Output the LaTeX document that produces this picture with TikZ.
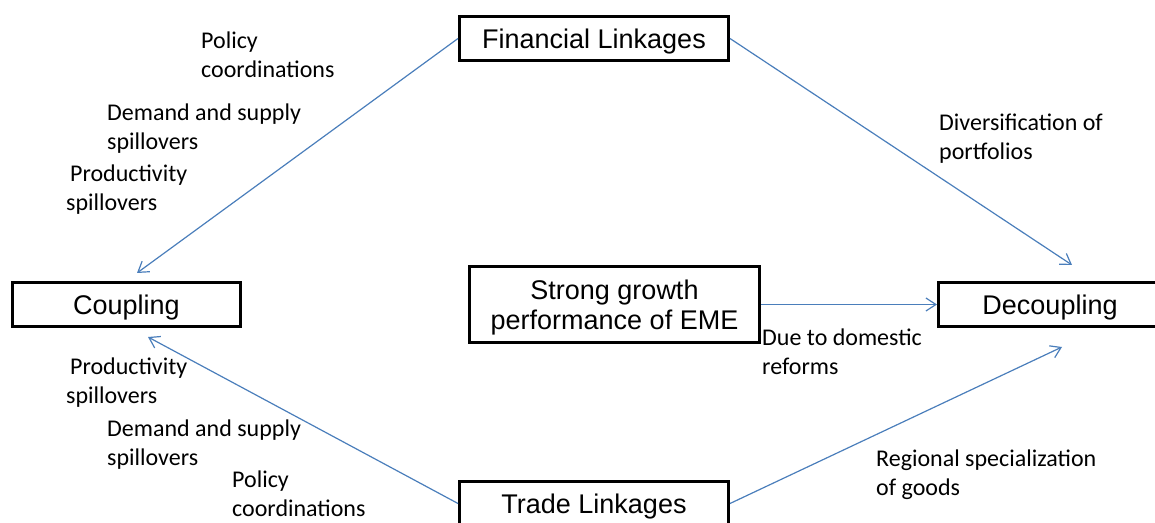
\documentclass[tikz,border=0pt]{standalone}
\usepackage{fontspec}
\setmainfont{Liberation Sans}
\newfontfamily\lblfont{Carlito}
\usetikzlibrary{arrows.meta}
\definecolor{linkblue}{RGB}{74,126,187}

\begin{document}
\begin{tikzpicture}[x=1pt,y=1pt,
  box/.style={draw=black, line width=3.4pt, inner sep=0pt, align=center,
    font=\fontsize{27}{30}\selectfont},
  onerow/.style={text height=25.6pt, text depth=5.7pt},
  lbl/.style={inner sep=0pt, anchor=west, align=left,
    font=\lblfont\fontsize{24}{29}\selectfont},
  link/.style={draw=linkblue, line width=1.2pt,
    -{Straight Barb[length=10pt,width=13pt]}}]
\clip (0,0) rectangle (1155,522);

% boxes
\node[box, onerow, minimum width=268.6pt, minimum height=43.6pt] (fin) at (594,483.5) {Financial Linkages};
\node[box, onerow, minimum width=227.6pt, minimum height=43.6pt] (coup) at (126.5,217.5) {Coupling};
\node[box, minimum width=289.6pt, minimum height=75.6pt] (eme) at (614.5,217.5)
  {\rule{0pt}{25.5pt}Strong growth\\performance of EME};
\node[box, onerow, minimum width=222.6pt, minimum height=43.6pt] (dec) at (1050,217.5) {Decoupling};
\node[box, onerow, minimum width=268.6pt, minimum height=43.6pt] (trade) at (594,18.5) {Trade Linkages};

% arrow ends that stop short of the boxes
\coordinate (finC) at ([xshift=10.5pt,yshift=8pt]coup.north);
\coordinate (finD) at ([xshift=22pt,yshift=16pt]dec.north);
\coordinate (trC) at ([xshift=21.5pt,yshift=-9pt]coup.south);
\coordinate (trD) at ([xshift=12pt,yshift=-19pt]dec.south);

% connectors
\draw[link] (fin.west) -- (finC);
\draw[link] (fin.east) -- (finD);
\draw[link] (eme.east) -- (dec.west);
\draw[link] (trade.west) -- (trC);
\draw[link] (trade.east) -- (trD);

% channel labels
\node[lbl] (l1) at (201,464.5) {\strut Policy\\\strut coordinations};
\node[lbl] (l2) at (107,392.5) {\strut Demand and supply\\\strut spillovers};
\node[lbl] (l3) at (66,332) {\strut\hspace*{4pt}Productivity\\\strut spillovers};
\node[lbl] (l4) at (66,138.5) {\strut\hspace*{4pt}Productivity\\\strut spillovers};
\node[lbl] (l5) at (107,76.5) {\strut Demand and supply\\\strut spillovers};
\node[lbl] (l6) at (232,26) {\strut Policy\\\strut coordinations};
\node[lbl] (l7) at (939,382.5) {\strut Diversification of\\\strut portfolios};
\node[lbl] (l8) at (762,168) {\strut Due to domestic\\\strut reforms};
\node[lbl] (l9) at (876,46.5) {\strut Regional specialization\\\strut of goods};
\end{tikzpicture}
\end{document}
